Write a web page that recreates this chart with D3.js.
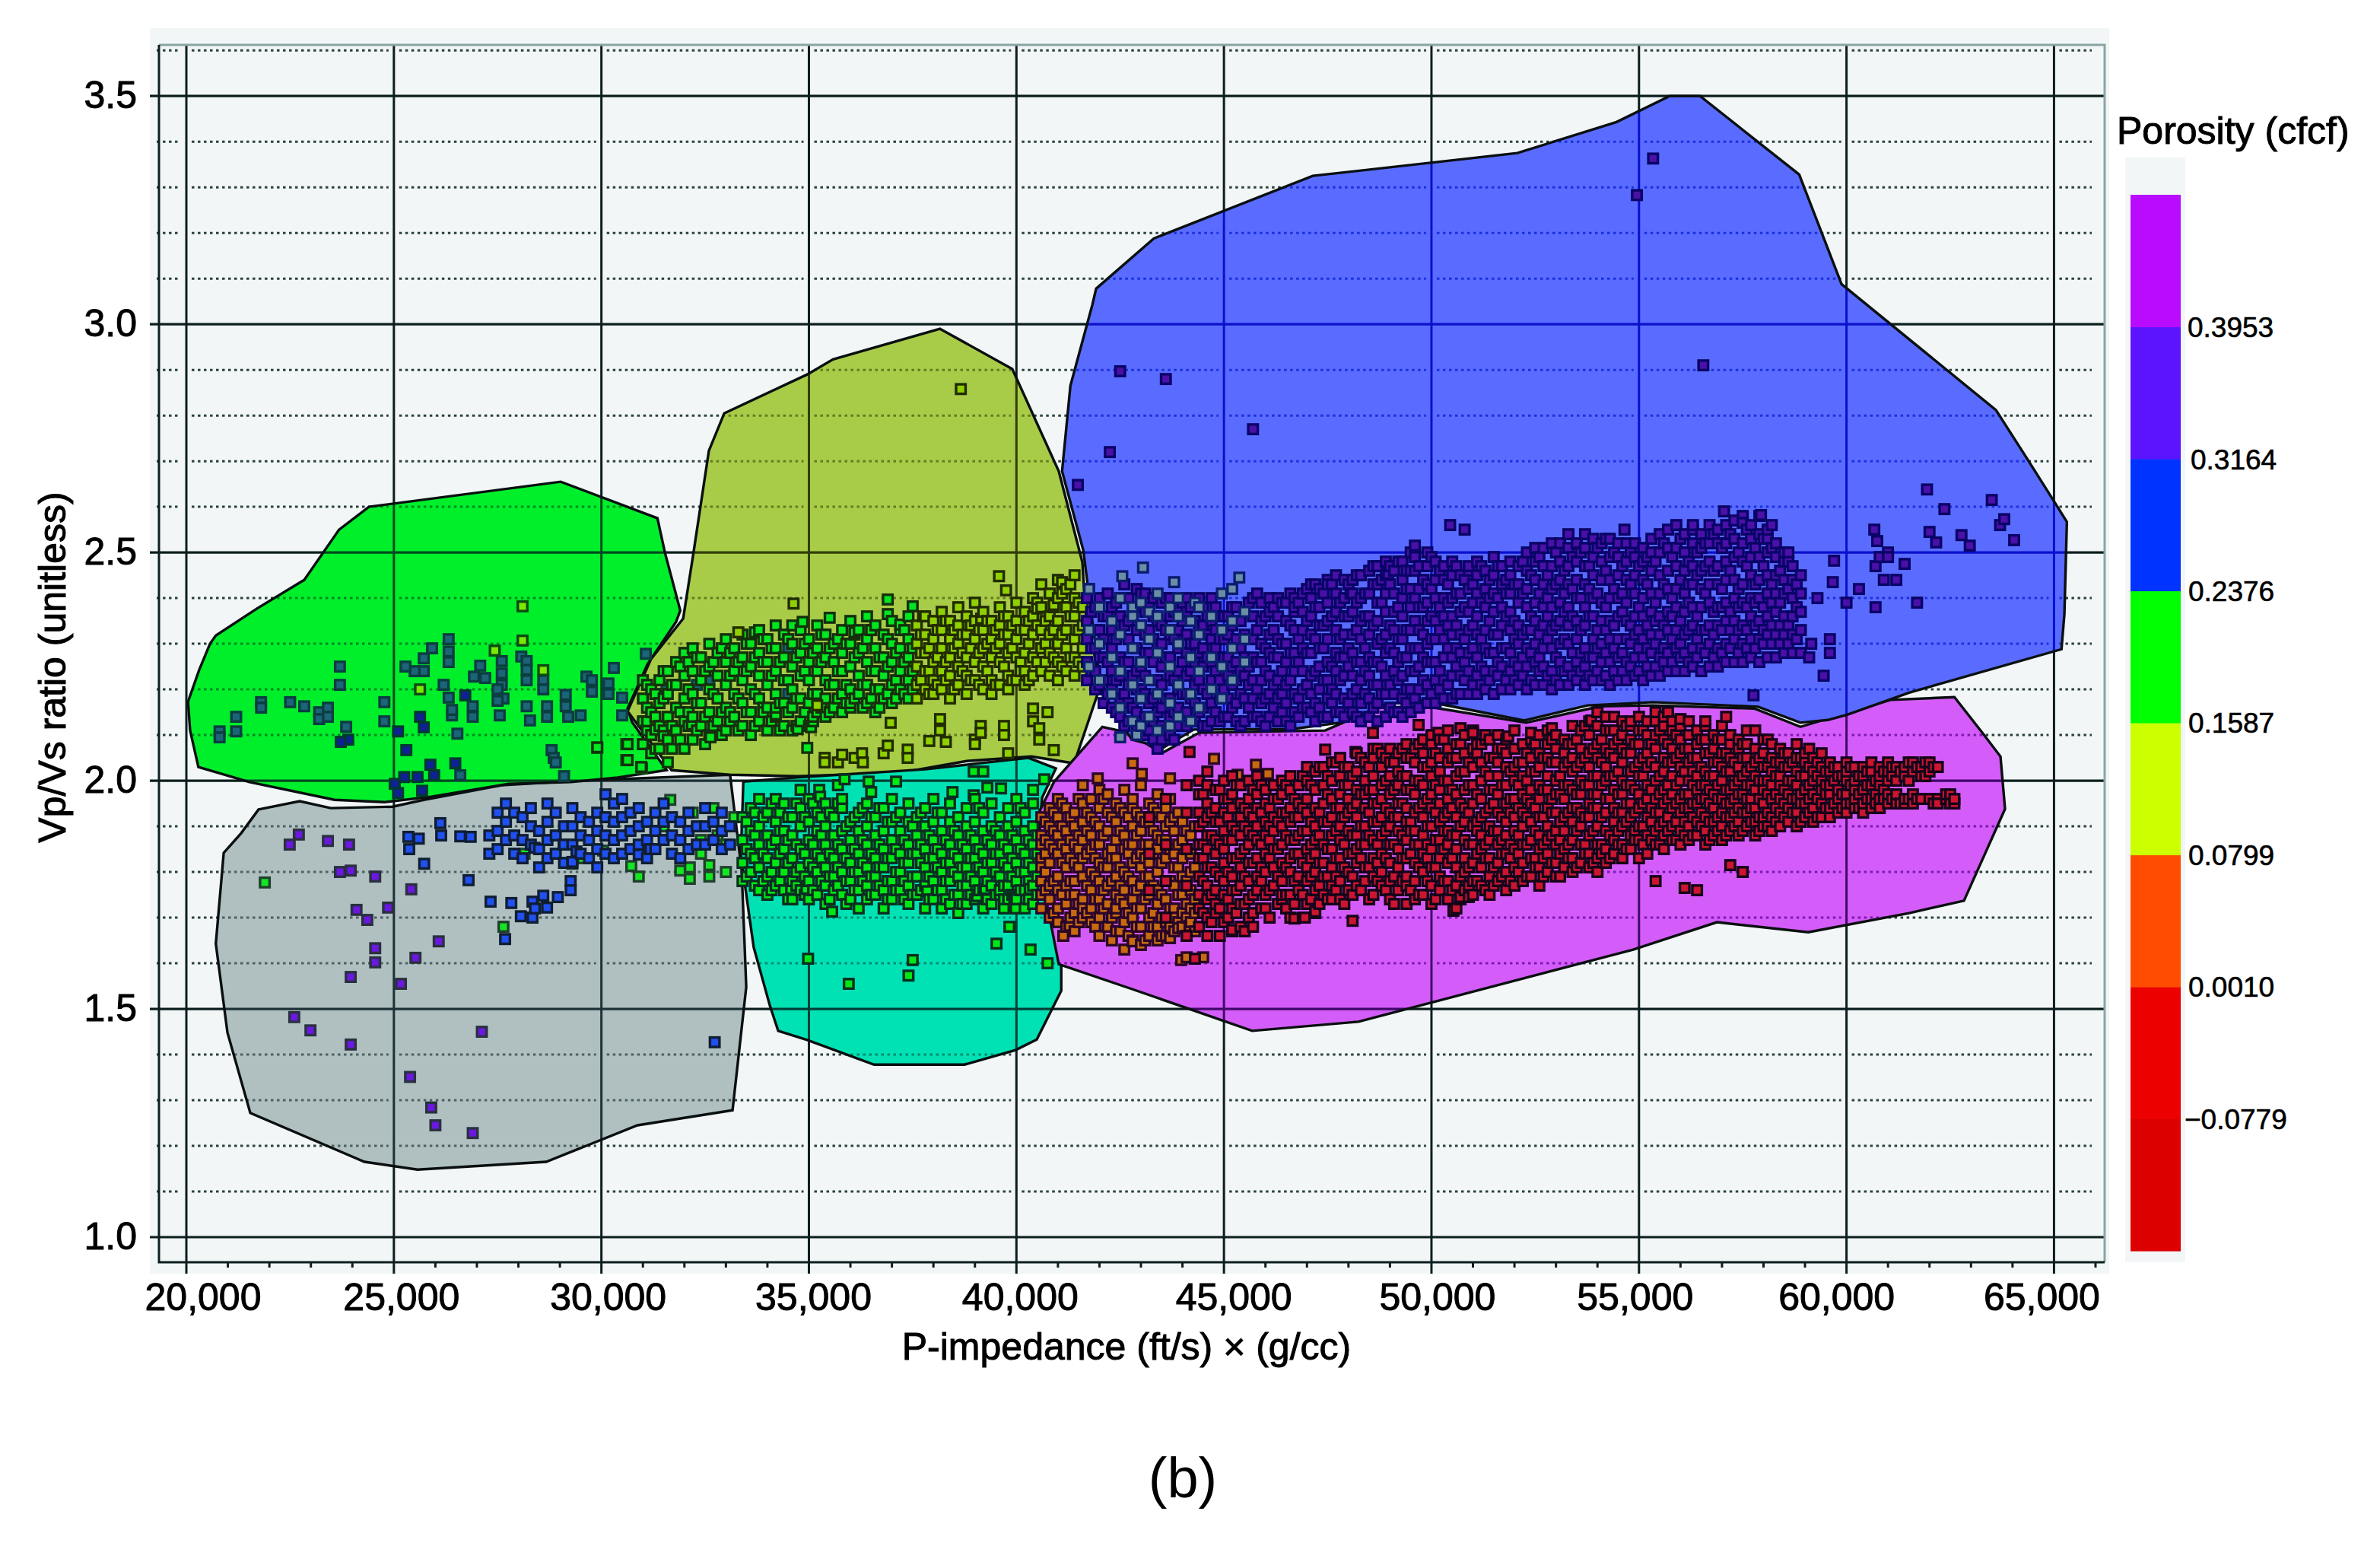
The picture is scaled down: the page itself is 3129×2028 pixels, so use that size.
<!DOCTYPE html>
<html><head><meta charset="utf-8">
<script src="https://cdn.jsdelivr.net/npm/d3@7"></script>
<style>html,body{margin:0;background:#fff}text{font-family:"Liberation Sans",Arial,sans-serif;fill:#000}</style>
</head><body><svg id="c" width="3129" height="2028"></svg>
<script>
// ---- axes ----
const xMajorTicks=[20,25,30,35,40,45,50,55,60,65];
const yMajorTicks=[1,1.5,2,2.5,3,3.5];
const yMinorTicks=[1.1,1.2,1.3,1.4,1.6,1.7,1.8,1.9,2.1,2.2,2.3,2.4,2.6,2.7,2.8,2.9,3.1,3.2,3.3,3.4,3.6];
const xTickLabelNudge=[22,10,9,6,5,13,8,-5,-13,-16];
const legendTicks=[0.3953,0.3164,0.2376,0.1587,0.0799,0.0010,-0.0779];
const legendTickNudge=[2,6,3,3,3,3,-2];
const legendColors=["#dc0000","#ec0000","#ff4c00","#ccff00","#00ff00","#0033ff","#5c14ff","#b90cff"];
// ---- polygons [x (thousand), y] ----
const greenPoly=[[20.04,2.173],[20.31,2.243],[20.57,2.30],[20.71,2.318],[21.70,2.377],[22.84,2.44],[23.68,2.55],[24.40,2.60],[29.02,2.655],[31.35,2.575],[31.53,2.50],[31.90,2.373],[31.80,2.348],[31.11,2.255],[30.63,2.158],[30.74,2.128],[31.57,2.023],[30.39,2.007],[29.27,1.997],[27.77,1.993],[25.90,1.965],[24.78,1.953],[23.57,1.958],[21.52,1.997],[20.29,2.03],[20.09,2.11]];
const olivePoly=[[38.16,2.99],[39.90,2.902],[41.02,2.678],[41.59,2.478],[41.66,2.373],[42.03,2.21],[41.39,2.038],[40.36,2.053],[38.80,2.043],[37.17,2.017],[34.72,2.01],[33.09,2.013],[31.69,2.023],[30.63,2.152],[31.20,2.267],[31.97,2.355],[32.22,2.50],[32.59,2.723],[32.96,2.805],[34.96,2.89],[35.58,2.923]];
const bluePoly=[[41.92,3.078],[43.31,3.188],[47.14,3.325],[52.07,3.375],[54.46,3.443],[55.74,3.50],[56.47,3.50],[58.86,3.328],[59.88,3.088],[63.60,2.812],[64.32,2.71],[64.98,2.615],[65.31,2.567],[65.25,2.365],[65.18,2.288],[61.51,2.193],[60.03,2.145],[59.55,2.133],[58.89,2.127],[57.87,2.162],[55.34,2.172],[53.76,2.165],[52.24,2.132],[50.48,2.163],[49.66,2.177],[48.92,2.168],[47.79,2.127],[46.63,2.113],[44.27,2.112],[43.53,2.072],[42.78,2.09],[42.05,2.193],[41.61,2.505],[41.10,2.678],[41.30,2.865],[41.83,3.043]];
const magentaPoly=[[40.91,1.998],[42.07,2.118],[42.71,2.105],[43.50,2.06],[44.40,2.105],[47.44,2.11],[48.70,2.16],[49.86,2.163],[52.28,2.127],[54.07,2.163],[55.34,2.165],[57.78,2.158],[58.89,2.118],[61.06,2.177],[62.60,2.183],[63.29,2.103],[63.71,2.053],[63.82,1.938],[62.83,1.737],[61.51,1.71],[59.08,1.668],[56.88,1.69],[54.86,1.63],[48.24,1.472],[45.68,1.452],[42.80,1.543],[41.02,1.598],[40.60,1.793],[40.55,1.932]];
const tealPoly=[[33.42,1.998],[34.70,2.007],[37.80,2.025],[40.29,2.05],[40.95,2.027],[40.62,1.963],[40.49,1.835],[41.08,1.60],[41.08,1.54],[40.49,1.433],[39.98,1.41],[38.75,1.378],[36.57,1.378],[34.96,1.432],[34.26,1.452],[34.06,1.507],[33.67,1.635],[33.36,1.835]];
const greyPoly=[[21.74,1.937],[22.73,1.955],[23.48,1.94],[24.97,1.943],[25.72,1.958],[27.59,1.99],[29.46,2.0],[33.10,2.013],[33.38,1.803],[33.49,1.548],[33.16,1.278],[30.87,1.245],[28.67,1.165],[25.57,1.148],[24.29,1.165],[21.54,1.272],[20.99,1.448],[20.71,1.643],[20.90,1.842],[21.32,1.885]];
// ---- points: dense clouds as [x,[y*100...]], sparse points as [x,y] ----
const orangeCols=[[40.6,[183,178,188,192,175,186,181,172]],[40.8,[190,186,182,177,174,194,170]],[41.0,[192,188,184,179,176,172,196,169]],[41.2,[194,189,185,181,177,173,168]],[41.4,[193,190,186,182,178,175,171,167]],[41.6,[195,191,187,183,179,174,170,199]],[41.8,[192,188,185,180,176,172,169,196]],[42.0,[194,190,186,182,178,174,170,166,198]],[42.2,[193,189,184,181,177,173,168,197]],[42.4,[195,191,187,183,179,175,171,172,167]],[42.6,[193,188,185,180,176,173,169,163,198]],[42.8,[194,190,186,182,178,174,170,165,196]],[43.0,[192,189,184,181,177,172,168,164,199]],[43.2,[195,191,186,182,179,175,170,166]],[43.4,[193,188,185,180,176,173,168,165,197]],[43.6,[194,190,187,183,178,174,169,166]],[43.8,[192,189,184,181,177,172,170,167]],[44.0,[191,187,183,179,175,171,168]],[44.2,[188,184,180,176,172,169]]];
const orangeCols2=[[40.7,[191,184,176,187,180]],[40.9,[178,193,171,185,189]],[41.1,[186,175,190,182,195]],[41.3,[170,183,192,178,187,175]],[41.5,[188,173,181,196,169,185]],[41.7,[177,193,184,171,189]],[41.9,[186,168,179,191,174,183]],[42.1,[172,196,181,188,176]],[42.3,[185,170,192,178,183,165]],[42.5,[189,174,181,167,194,177]],[42.7,[171,186,179,192,184,166]],[42.9,[176,188,168,183,193,172]],[43.1,[186,174,191,179,165,183]],[43.3,[171,189,177,194,184,168]],[43.5,[182,170,187,175,192,166]],[43.7,[178,191,172,185,168,196]],[43.9,[186,175,181,169,193]],[44.1,[173,189,178,185,170]],[44.3,[181,174,190,167]]];
const orangeDots=[[42.8,2.038],[43.02,2.015],[43.7,2.005],[41.96,2.005],[44.76,2.048],[45.77,2.035],[46.06,2.015],[45.33,2.013],[41.28,1.682],[41.13,1.66],[42.8,1.648],[43.7,1.655],[43.97,1.607],[44.1,1.613],[44.5,1.613],[44.17,1.682],[43.9,1.677],[41.6,1.72],[41.9,1.74],[44.6,1.74],[44.3,1.71]];
const redCols=[[43.2,[184,192,176]],[43.6,[196,186,178,170]],[44.1,[199,193,185,177,166]],[44.4,[168,172,175,179,183,186,190,193,197,200]],[44.6,[166,170,174,177,181,185,188,192,195,199,202]],[44.8,[171,173,176,180,184,187,191,194,198]],[45.0,[169,175,178,182,185,189,193,196,200]],[45.2,[167,172,176,179,183,187,190,194,197,201]],[45.4,[173,177,181,184,188,192,195,199]],[45.6,[170,174,178,182,186,189,193,196,200]],[45.8,[176,179,183,187,190,194,197,201]],[46.0,[172,175,180,184,188,191,195,198]],[46.2,[177,181,185,189,192,196,199]],[46.4,[174,178,182,186,190,193,197,200]],[46.6,[170,175,180,183,187,191,194,198,201]],[46.8,[176,179,184,188,192,195,199]],[47.0,[173,178,181,185,189,193,196,200,203]],[47.2,[171,176,180,184,187,190,194,198,202]],[47.4,[175,179,182,186,191,195,199,203]],[47.6,[177,181,185,188,192,196,200,204]],[47.8,[174,178,183,187,190,194,197,201,205]],[48.0,[176,180,184,189,193,196,199,203]],[48.2,[177,182,185,188,192,195,198,202,206]],[48.4,[178,181,186,190,194,197,200,204]],[48.6,[175,179,183,187,191,195,198,201,205,207]],[48.8,[177,180,184,188,192,196,199,203,206]],[49.0,[174,178,182,186,190,193,197,201,204,207]],[49.2,[176,181,185,189,192,195,199,202,206]],[49.4,[177,179,183,187,191,194,198,201,205,208]],[49.6,[174,178,182,186,189,193,197,200,204,207]],[49.8,[175,180,184,188,192,195,199,203,206,209]],[50.0,[173,177,181,185,190,194,197,201,204,208,210]],[50.2,[176,179,183,187,191,195,198,202,205,209]],[50.4,[174,178,182,186,189,193,196,200,204,207,211]],[50.6,[172,177,181,185,188,192,197,201,205,208]],[50.8,[176,180,183,187,191,194,198,202,206,210]],[51.0,[175,178,182,186,190,195,199,203,207,211]],[51.2,[177,181,185,188,192,196,200,204,208]],[51.4,[175,179,183,187,190,194,198,201,205,209]],[51.6,[178,182,186,189,193,197,201,204,207,210]],[51.8,[176,180,184,188,191,195,199,203,206,209]],[52.0,[177,181,185,189,192,196,200,203,207,211]],[52.2,[178,182,186,190,193,197,201,204,208]],[52.4,[179,183,187,191,195,198,202,205,209]],[52.6,[177,181,185,188,192,196,199,203,206,210]],[52.8,[180,184,187,190,194,198,201,205,208,211]],[53.0,[179,182,186,189,193,197,200,204,207,210]],[53.2,[181,185,189,192,196,199,203,206,209]],[53.4,[180,183,187,191,194,198,202,205,208,212]],[53.6,[182,186,190,193,197,200,204,207,211]],[53.8,[181,184,188,192,195,199,203,206,210,213]],[54.0,[180,183,186,190,194,197,201,205,208,212,215]],[54.2,[182,185,189,193,196,200,203,207,211,214]],[54.4,[184,187,191,194,198,201,205,208,211]],[54.6,[183,186,190,193,197,200,204,207,210,213]],[54.8,[185,188,192,195,199,202,206,209,212]],[55.0,[183,187,190,194,197,201,204,208,211,214]],[55.2,[184,188,192,196,199,203,206,210,213]],[55.4,[186,189,193,196,200,203,207,210,213]],[55.6,[185,188,191,195,198,202,205,209,212,214]],[55.8,[187,190,194,197,201,204,207,211,213]],[56.0,[186,189,193,196,200,203,206,209,212]],[56.2,[187,190,194,197,200,204,207,210,213]],[56.4,[188,191,195,198,201,205,208,211]],[56.6,[186,189,192,196,199,202,206,209,212]],[56.8,[188,191,194,197,201,204,207,210]],[57.0,[187,190,193,196,200,203,206,209,212]],[57.2,[189,192,195,198,202,205,208,210]],[57.4,[188,191,194,197,200,203,207,209]],[57.6,[190,193,196,199,202,205,208,211]],[57.8,[188,191,194,198,201,204,207]],[58.0,[190,192,195,198,200,203,206,209]],[58.2,[189,192,196,199,202,205,208]],[58.4,[190,193,196,199,201,204,207]],[58.6,[191,194,197,200,203,206]],[58.8,[190,193,196,199,202,205,208]],[59.0,[192,195,198,201,204,206]],[59.2,[191,194,197,200,202,205]],[59.4,[192,195,198,200,203,206]],[59.6,[192,194,197,199,202,204]],[59.8,[193,196,198,201,203]],[60.0,[193,195,197,200,202,204]],[60.2,[194,196,198,200,203]],[60.4,[193,195,198,201,203]],[60.6,[194,196,199,202,204]],[60.8,[194,196,199,201,203]],[61.0,[195,197,200,202,204]],[61.2,[195,197,200,203]],[61.4,[195,196,201,203]],[61.6,[195,197,202,204]],[61.8,[196,201,203]],[62.0,[196,202,204]],[62.2,[196,195,203]],[62.4,[196,197]],[62.6,[195,196]]];
const redCols2=[[44.5,[191,178,186,171,197,183]],[44.7,[175,193,169,188,181]],[44.9,[186,172,198,179,191,166]],[45.1,[180,192,174,187,170,196]],[45.3,[189,176,183,199,171]],[45.5,[173,194,185,179,167,190]],[45.7,[182,198,175,188,192,171]],[45.9,[193,178,186,172,199,181]],[46.1,[176,190,183,194,170,187]],[46.3,[196,173,185,179,191]],[46.5,[181,188,175,199,193,172]],[46.7,[192,178,184,196,173,187]],[46.9,[175,189,182,201,194,170]],[47.1,[186,199,179,191,174,183]],[47.3,[193,177,188,203,182,173]],[47.5,[179,197,185,174,191,201]],[47.7,[189,183,176,194,204,179]],[47.9,[192,173,199,186,181,203]],[48.1,[179,188,201,194,175,184]],[48.3,[197,183,176,190,205,186]],[48.5,[181,193,203,174,188,198]],[48.7,[186,178,195,207,182,191]],[48.9,[200,176,189,183,194,205]],[49.1,[179,192,186,198,173,204]],[49.3,[188,183,207,195,178,201]],[49.5,[176,191,198,184,205,189]],[49.7,[181,194,186,208,175,200]],[49.9,[190,178,203,196,183,186]],[50.1,[174,193,187,206,199,181]],[50.3,[185,200,178,192,209,189]],[50.5,[194,176,183,205,198,188]],[50.7,[179,190,202,174,195,208]],[50.9,[186,199,181,193,177,204]],[51.1,[191,184,206,178,197,189]],[51.3,[176,193,202,186,183,209]],[51.5,[198,181,189,205,177,195]],[51.7,[184,192,179,207,199,187]],[51.9,[193,178,186,202,196,183]],[52.1,[188,180,204,194,199,184]],[52.3,[179,192,186,206,200,196]],[52.5,[194,183,189,208,181,202]],[52.7,[186,179,198,192,205,183]],[52.9,[196,182,188,204,193,209]],[53.1,[184,201,191,179,197,187]],[53.3,[193,186,208,183,199,204]],[53.5,[181,194,189,203,197,209]],[53.7,[186,199,184,205,192,212]],[53.9,[194,182,189,207,201,197]],[54.1,[186,199,192,184,209,204]],[54.3,[188,196,183,206,201,211]],[54.5,[193,186,202,189,209,197]],[54.7,[185,195,199,191,206,212]],[54.9,[189,203,193,187,198,208]],[55.1,[195,186,201,190,211,205]],[55.3,[191,198,187,204,194,208]],[55.5,[186,201,193,197,190,211]],[55.7,[196,189,204,192,208,199]],[55.9,[191,187,199,205,195,210]],[56.1,[194,188,202,197,191,207]],[56.3,[199,192,188,205,195,202]],[56.5,[190,196,203,193,199,209]],[56.7,[195,187,201,191,206,198]],[56.9,[192,199,189,204,196,209]],[57.1,[195,188,202,198,192,206]],[57.3,[200,190,196,204,193,199]],[57.5,[193,189,201,197,205,208]],[57.7,[196,191,203,199,194]],[57.9,[192,200,196,189,205]],[58.1,[197,193,203,190,200]],[58.3,[194,201,191,197,204]],[58.5,[198,192,203,195,206]],[58.7,[193,200,196,204]],[58.9,[197,191,201,195]],[59.1,[193,199,203,196]],[59.3,[196,192,201,204]],[59.5,[199,194,197,202]],[59.7,[195,200,203]],[59.9,[197,194,201]],[60.1,[195,199,203]],[60.3,[197,201,194]],[60.5,[199,196,202]],[60.7,[197,200,195]],[60.9,[198,202,196]],[61.1,[201,196,203]],[61.3,[202,195]],[61.5,[200,204,196]],[61.7,[203,196]],[61.9,[201,204]],[62.1,[203,195]],[62.5,[195,197]]];
const redDots=[[44.17,2.063],[47.44,2.068],[48.17,2.063],[48.59,2.105],[49.69,2.122],[50.17,2.105],[50.7,2.115],[51.0,2.105],[51.3,2.10],[51.1,2.08],[51.85,2.097],[52.4,2.105],[52.9,2.115],[53.85,2.132],[54.4,2.14],[54.8,2.13],[55.4,2.15],[55.7,2.15],[56.0,2.135],[56.6,2.13],[57.1,2.14],[57.8,2.11],[58.1,2.09],[58.9,2.05],[59.1,2.07],[44.3,1.61],[45.2,1.673],[45.4,1.68],[45.7,1.68],[46.7,1.698],[46.95,1.70],[47.2,1.713],[48.1,1.693],[50.53,1.715],[50.7,1.745],[50.9,1.745],[49.4,1.73],[47.6,1.74],[46.4,1.75],[45.9,1.72],[55.4,1.78],[56.1,1.765],[56.4,1.76],[57.2,1.815],[57.5,1.80]];
const purpleCols=[[41.7,[222,226,231,235,240]],[41.9,[220,224,229,233,238]],[42.1,[217,222,227,231,236]],[42.3,[216,220,224,229,233,238]],[42.5,[214,218,223,227,232,236,240]],[42.7,[213,217,221,226,231,235,240]],[42.9,[211,215,220,224,229,233,238,242]],[43.1,[210,214,219,223,228,232,237,241]],[43.3,[209,213,218,222,226,231,236,240]],[43.5,[209,212,216,221,225,230,234,239]],[43.7,[210,214,218,223,227,232,236,240]],[43.9,[212,216,220,224,229,233,238]],[44.1,[212,215,219,223,228,232,237,240]],[44.3,[213,217,221,226,230,235,239]],[44.5,[212,216,220,225,229,234,238]],[44.7,[213,217,222,226,231,235,240]],[44.9,[213,218,222,227,231,236]],[45.1,[214,218,223,227,232,236]],[45.3,[213,217,222,226,231,235,238]],[45.5,[213,218,223,227,232,237]],[45.7,[214,218,222,227,231,236,240]],[45.9,[213,217,222,226,230,235,239]],[46.1,[214,219,223,228,232,237,240]],[46.3,[213,218,222,227,231,236,240]],[46.5,[213,217,221,226,230,235,239]],[46.7,[215,219,224,228,233,237,240]],[46.9,[216,220,224,229,233,237,241]],[47.1,[215,219,223,228,232,236,240,243]],[47.3,[216,220,225,229,234,238,242]],[47.5,[214,218,222,226,231,235,239,244]],[47.7,[215,219,224,228,233,237,241,245]],[47.9,[214,218,223,227,232,236,240,244]],[48.1,[215,219,223,228,232,237,241,244]],[48.3,[213,217,222,226,231,235,240,245]],[48.5,[214,218,223,227,232,236,241,246]],[48.7,[213,217,221,226,230,235,239,243,247]],[48.9,[214,219,223,228,232,237,241,245,248]],[49.1,[215,219,224,228,233,237,241,246]],[49.3,[214,218,223,227,231,236,240,244,248]],[49.5,[215,220,224,229,233,238,242,246,250]],[49.7,[216,220,225,229,233,238,242,247]],[49.9,[217,221,226,230,235,239,243,247,250]],[50.1,[217,222,226,231,235,240,244,248]],[50.3,[218,222,227,231,236,240,244,247]],[50.5,[218,223,227,232,236,240,245,248]],[50.7,[219,223,228,232,237,241,245]],[50.9,[219,224,228,233,237,242,246,247]],[51.1,[219,223,227,232,236,241,245,248]],[51.3,[220,224,229,233,238,242,246]],[51.5,[219,224,228,232,237,241,245,249]],[51.7,[220,225,229,234,238,243,247]],[51.9,[220,224,228,233,237,241,245,248]],[52.1,[221,225,230,234,239,243,247]],[52.3,[220,225,229,233,238,242,246,250]],[52.5,[221,226,230,235,239,244,248,251]],[52.7,[221,225,229,234,238,243,247,251]],[52.9,[220,224,229,233,238,242,247,252]],[53.1,[221,226,230,235,239,244,248,252]],[53.3,[221,225,230,234,238,243,247,251,254]],[53.5,[222,226,231,235,240,244,248,252]],[53.7,[221,225,229,234,238,243,247,251,254]],[53.9,[222,227,231,236,240,245,249,253]],[54.1,[222,226,230,235,239,244,248,252]],[54.3,[221,226,231,235,240,244,249,253]],[54.5,[222,227,231,236,240,245,249,252]],[54.7,[222,226,231,235,239,244,248,252]],[54.9,[223,227,232,236,241,245,249,252]],[55.1,[222,227,231,236,240,244,248,251]],[55.3,[223,228,232,237,241,246,250,253]],[55.5,[223,227,232,236,241,245,250,254]],[55.7,[224,228,233,237,242,246,251,255]],[55.9,[224,229,233,238,242,247,251,256]],[56.1,[224,228,232,237,241,246,250,254]],[56.3,[225,229,234,238,243,247,252,255]],[56.5,[224,229,233,238,242,246,251,254]],[56.7,[225,230,234,239,243,248,252,256]],[56.9,[225,229,234,238,243,247,252,255]],[57.1,[226,230,235,239,244,248,252,256]],[57.3,[226,231,235,240,244,249,253,257]],[57.5,[226,230,234,239,243,248,252,258]],[57.7,[227,231,236,240,245,249,253,256]],[57.9,[226,231,235,240,244,249,254,258]],[58.1,[227,232,236,241,245,250,253,255]],[58.3,[227,232,237,241,245,249,252]],[58.5,[228,232,236,241,244,248,250]],[58.7,[228,232,236,240,244,247]],[58.9,[228,233,237,241,245]]];
const purpleCols2=[[41.8,[229,237,224]],[42.0,[233,221,227,240]],[42.2,[219,236,226,241]],[42.4,[231,215,222,239]],[42.6,[226,219,234,212,243]],[42.8,[216,229,238,223]],[43.0,[225,212,234,220,241]],[43.2,[217,238,228,211,233]],[43.4,[222,207,235,215,229]],[43.6,[218,227,240,211,233]],[43.8,[231,215,222,237,209]],[44.0,[226,214,235,219,239]],[44.2,[218,230,213,224,238]],[44.4,[234,222,215,228,240]],[44.6,[219,227,212,236,232]],[44.8,[224,215,233,229,238]],[45.0,[220,236,227,214,231]],[45.2,[225,216,234,221,238]],[45.4,[229,219,212,235,224]],[45.6,[216,231,225,239,221]],[45.8,[226,214,233,220,241]],[46.0,[218,236,229,212,224]],[46.2,[233,221,216,238,227]],[46.4,[224,239,215,230,219]],[46.6,[228,212,234,222,241]],[46.8,[218,231,226,239,214]],[47.0,[235,221,216,228,242]],[47.2,[224,217,238,231,213]],[47.4,[229,222,241,214,234]],[47.6,[217,236,225,243,220]],[47.8,[231,222,215,239,227]],[48.0,[225,236,217,243,229]],[48.2,[220,233,214,239,226,245]],[48.4,[229,219,241,224,236]],[48.6,[216,234,226,221,243,247]],[48.8,[225,239,219,231,244]],[49.0,[221,234,216,229,243,247]],[49.2,[226,238,222,215,231,248]],[49.4,[220,233,242,227,217,246]],[49.6,[235,224,218,240,229,249]],[49.8,[222,232,244,227,238]],[50.0,[219,236,226,242,231,249]],[50.2,[224,238,220,233,246]],[50.4,[229,221,243,234,239]],[50.6,[225,234,219,241,229,247]],[50.8,[222,238,231,226,244]],[51.0,[234,221,229,243,239]],[51.2,[225,239,221,231,247]],[51.4,[228,222,235,244,240]],[51.6,[223,232,240,226,247]],[51.8,[236,222,229,244,241]],[52.0,[226,235,222,243,231]],[52.2,[223,232,241,227,248]],[52.4,[228,236,222,245,233]],[52.6,[224,241,232,227,249]],[52.8,[236,223,231,245,240]],[53.0,[227,234,222,243,250]],[53.2,[224,237,231,246,241]],[53.4,[228,223,236,249,242]],[53.6,[233,224,240,228,250]],[53.8,[227,236,223,247,242]],[54.0,[224,233,241,229,251]],[54.2,[228,238,223,246,233]],[54.4,[224,234,242,229,250]],[54.6,[237,228,224,247,241]],[54.8,[225,234,243,230,250]],[55.0,[229,238,224,247,233]],[55.2,[225,234,243,229,249]],[55.4,[230,239,225,248,235]],[55.6,[226,234,243,229,252]],[55.8,[231,240,226,249,236]],[56.0,[227,235,244,230,253]],[56.2,[226,239,233,248,243]],[56.4,[231,227,236,250,245]],[56.6,[228,241,233,247,252]],[56.8,[232,227,237,246,254]],[57.0,[228,242,233,251,238]],[57.2,[229,237,246,233,254]],[57.4,[233,228,242,250,238]],[57.6,[229,238,247,233,255]],[57.8,[234,229,243,251,239]],[58.0,[230,238,247,233,253]],[58.2,[234,230,243,251,239]],[58.4,[230,239,246,234]],[58.6,[234,230,242,248]],[58.8,[231,238,243]]];
const purpleDots=[[61.94,2.638],[63.5,2.615],[62.36,2.595],[63.8,2.573],[63.7,2.56],[62.0,2.545],[62.16,2.522],[62.77,2.538],[62.97,2.515],[64.04,2.527],[60.67,2.55],[60.74,2.525],[61.0,2.50],[60.8,2.49],[61.0,2.49],[60.7,2.47],[61.4,2.475],[59.7,2.482],[60.9,2.44],[61.2,2.44],[60.3,2.42],[59.67,2.435],[59.3,2.40],[60.0,2.39],[60.7,2.38],[61.7,2.39],[59.6,2.31],[59.6,2.28],[59.45,2.23],[59.15,2.30],[59.1,2.27],[58.2,2.56],[58.6,2.50],[57.94,2.582],[57.05,2.59],[57.5,2.565],[56.3,2.56],[54.65,2.55],[54.2,2.53],[57.76,2.187],[55.34,3.363],[54.95,3.283],[56.55,2.91],[42.5,2.897],[43.6,2.88],[42.25,2.72],[45.7,2.77],[41.48,2.648],[50.45,2.56],[50.8,2.55],[49.6,2.515],[49.6,2.49],[49.6,2.46],[48.96,2.453],[47.2,2.43],[47.5,2.43],[48.05,2.41],[46.7,2.38]];
const slateCols=[[41.75,[233,225,242]],[42.0,[230,222,238]],[42.3,[235,227,219]],[42.5,[232,224,216,240]],[42.8,[238,229,221,213,236]],[43.0,[234,226,218,212,239]],[43.2,[231,222,214,237]],[43.4,[236,228,219,211,241]],[43.7,[233,225,217,212,238]],[43.9,[230,221,214,236,240]],[44.2,[235,227,219,213]],[44.4,[232,224,216,238]],[44.7,[236,227,220]],[44.95,[233,225,218]],[45.2,[235,229,222]],[45.5,[237,231,226]]];
const slateDots=[[43.05,2.467],[42.55,2.448],[43.8,2.435],[45.37,2.445],[45.2,2.42],[44.95,2.41],[44.3,2.39],[41.75,2.42],[43.0,2.39],[41.75,2.33],[42.5,2.095],[42.9,2.10]];
const greenOliveCols=[[31.0,[218,213,208,222]],[31.2,[220,215,210,206]],[31.4,[222,217,212,207]],[31.6,[224,219,214,209,204]],[31.8,[226,221,216,211]],[32.0,[228,223,218,213,207]],[32.2,[229,224,219,214,209]],[32.4,[227,222,217,212]],[32.6,[230,225,220,215,210]],[32.8,[228,223,218,213]],[33.0,[231,226,221,216,211]],[33.2,[229,224,219,214]],[33.4,[232,227,222,217,212]],[33.6,[230,225,220,215,210]],[33.8,[233,228,223,218,213]],[34.0,[231,226,221,216,211]],[34.2,[234,229,224,219,214]],[34.4,[232,227,222,217,212]],[34.6,[230,225,220,216,211]],[34.8,[233,228,223,218,213]],[35.0,[231,226,222,217,212]],[35.2,[234,229,224,219,215]],[35.4,[232,227,222,218,214]],[35.6,[230,226,221,216]],[35.8,[233,228,224,219,215]],[36.0,[235,230,225,220,216]],[36.2,[233,228,223,219]],[36.4,[236,231,226,221,217]],[36.6,[234,229,224,220,215]],[36.8,[232,227,223,218]],[37.0,[235,230,226,221,217]],[37.2,[233,229,224,220]],[37.4,[236,231,227,222,218]]];
const greenOliveCols2=[[31.1,[216,221,211]],[31.3,[214,219,207]],[31.5,[218,211,224]],[31.7,[221,212,207]],[31.9,[215,225,209]],[32.1,[220,212,226]],[32.3,[217,227,211]],[32.5,[224,214,208]],[32.7,[219,226,212]],[32.9,[215,229,210]],[33.1,[223,213,228]],[33.3,[218,226,211]],[33.5,[224,215,230]],[33.7,[219,227,212]],[33.9,[226,216,231]],[34.1,[213,223,229]],[34.3,[217,226,211]],[34.5,[222,215,231]],[34.7,[227,218,212]],[34.9,[224,215,230]],[35.1,[219,228,213]],[35.3,[226,216,232]],[35.5,[221,229,215]],[35.7,[224,218,231]],[35.9,[221,217,230]],[36.1,[227,218,232]],[36.3,[221,229,216]],[36.5,[224,218,233]],[36.7,[227,220,216]],[36.9,[225,219,231]],[37.1,[228,222,218]],[37.3,[226,219,233]],[37.5,[229,224,220]]];
const limeCols=[[37.6,[234,230,225,221,218]],[37.8,[236,232,228,224,220]],[38.0,[235,231,226,222,219]],[38.2,[237,233,229,224,220]],[38.4,[235,231,227,223,218]],[38.6,[238,234,230,225,221]],[38.8,[236,232,227,223,219]],[39.0,[239,235,231,226,222]],[39.2,[237,233,229,225,220]],[39.4,[235,231,227,222,219]],[39.6,[238,234,230,226,221]],[39.8,[236,232,228,223,220]],[40.0,[239,235,231,227,222]],[40.2,[237,233,228,224,221]],[40.4,[240,236,232,227,223]],[40.6,[243,238,233,229,224]],[40.8,[241,236,232,228,223]],[41.0,[244,240,235,230,226,222]],[41.2,[242,238,233,229,224]],[41.4,[245,240,236,231,227,223]],[41.6,[238,234,229,225]]];
const limeCols2=[[37.7,[228,222,232]],[37.9,[229,224,219]],[38.1,[233,221,227]],[38.3,[226,235,222]],[38.5,[229,220,233]],[38.7,[224,232,228]],[38.9,[234,222,229]],[39.1,[228,221,233]],[39.3,[224,235,230]],[39.5,[229,221,233]],[39.7,[225,236,232]],[39.9,[222,229,234]],[40.1,[226,233,224]],[40.3,[230,222,235]],[40.5,[226,234,239]],[40.7,[230,235,226]],[40.9,[238,227,233]],[41.1,[232,241,225]],[41.3,[227,236,243]],[41.5,[233,226,239]]];
const greenOliveDots=[[34.85,2.348],[34.6,2.34],[35.5,2.357],[36.9,2.397],[36.9,2.365],[37.5,2.382],[37.2,2.342],[38.3,2.342],[33.7,2.325],[36.5,2.33],[36.1,2.325],[32.63,2.095],[31.5,2.098],[31.3,2.112],[31.1,2.13],[34.96,2.072],[34.73,2.113],[35.05,2.117],[32.18,2.123],[33.9,2.15],[34.2,2.145],[33.1,2.15],[32.1,2.15],[30.63,2.08],[30.63,2.045],[30.96,2.03],[29.9,2.073],[34.2,2.16],[35.1,2.14],[36.0,2.17]];
const limeDots=[[34.63,2.388],[37.75,2.36],[39.15,2.355],[33.3,2.325],[39.58,2.448],[39.75,2.417],[41.1,2.435],[40.5,2.377],[40.9,2.385],[41.2,2.38],[38.66,2.858],[36.97,2.127],[38.16,2.135],[38.16,2.11],[38.3,2.085],[37.9,2.087],[39.14,2.12],[39.14,2.105],[39.7,2.12],[39.7,2.10],[39.0,2.09],[39.0,2.08],[40.4,2.158],[40.75,2.15],[40.4,2.13],[40.55,2.115],[40.55,2.09],[40.9,2.067],[39.8,2.06],[37.38,2.068],[37.38,2.05],[36.9,2.077],[36.8,2.06],[36.28,2.06],[36.1,2.05],[35.8,2.057],[35.38,2.05],[35.38,2.04],[35.7,2.04],[36.3,2.04],[35.2,2.165],[41.85,2.24]];
const greenTealCols=[[33.4,[192,187,182,178]],[33.6,[194,189,184,180]],[33.8,[190,186,181,176,196]],[34.0,[193,188,183,179,175]],[34.2,[191,187,182,177,196]],[34.4,[195,189,185,180,176]],[34.6,[192,188,183,178,174]],[34.8,[194,190,185,181,176,198]],[35.0,[191,187,182,178,174,196]],[35.2,[193,189,184,180,175]],[35.4,[195,190,186,181,177,173]],[35.6,[192,188,183,179,176]],[35.8,[194,189,185,180,175,196]],[36.0,[191,187,182,178,174]],[36.2,[193,189,184,180,176,172]],[36.4,[195,190,186,181,177,174]],[36.6,[192,188,183,179,175]],[36.8,[194,189,185,181,176,172]],[37.0,[191,187,183,178,174,196]],[37.2,[193,189,184,180,176]],[37.4,[195,191,186,182,177,173]],[37.6,[192,188,184,179,175]],[37.8,[194,190,185,181,177,172]],[38.0,[191,187,183,178,174,196]],[38.2,[193,189,184,180,176,172]],[38.4,[195,191,186,182,178,173]],[38.6,[192,188,183,179,175,171]],[38.8,[194,190,185,181,177,173]],[39.0,[191,187,183,178,174,196]],[39.2,[193,189,184,180,176,172]],[39.4,[195,190,186,182,177,173]],[39.6,[192,188,184,179,175]],[39.8,[194,190,185,181,177,174]],[40.0,[191,187,182,178,174,196]],[40.2,[193,189,184,180,176,172]],[40.4,[195,190,186,181,177,173]]];
const greenTealCols2=[[33.5,[185,179,191]],[33.7,[177,188,193,183]],[33.9,[184,192,178]],[34.1,[186,180,195,176]],[34.3,[189,184,178,193]],[34.5,[182,187,174,192]],[34.7,[180,186,177,195]],[34.9,[184,192,179,175]],[35.1,[186,181,176,195]],[35.3,[188,178,183,192]],[35.5,[184,179,174,193]],[35.7,[186,181,177,195]],[35.9,[183,178,190,173]],[36.1,[185,176,192,180]],[36.3,[187,182,178,194]],[36.5,[184,179,175,192]],[36.7,[186,181,177,194]],[36.9,[183,178,174,191]],[37.1,[185,180,176,192]],[37.3,[187,182,178,174]],[37.5,[190,184,179,175]],[37.7,[186,182,176,193]],[37.9,[188,183,179,174]],[38.1,[185,181,176,193]],[38.3,[187,182,178,174]],[38.5,[189,184,180,175]],[38.7,[186,181,177,173]],[38.9,[188,183,179,175]],[39.1,[185,181,176,194]],[39.3,[187,182,178,174]],[39.5,[189,184,180,175]],[39.7,[186,182,177,172]],[39.9,[188,183,179,175]],[40.1,[185,180,176,194]],[40.3,[187,182,178,174]],[40.5,[188,184,179,175]]];
const greenTealDots=[[38.97,2.02],[39.2,2.02],[40.67,2.003],[37.1,1.998],[35.86,2.003],[35.7,1.99],[36.44,1.998],[36.5,1.975],[35.25,1.98],[35.27,1.965],[38.46,1.975],[39.63,1.983],[40.4,1.98],[38.97,1.968],[39.3,1.985],[34.94,1.763],[34.57,1.763],[37.85,1.758],[39.05,1.747],[39.25,1.763],[39.6,1.76],[39.7,1.74],[39.95,1.745],[39.98,1.72],[40.32,1.763],[35.56,1.713],[39.83,1.68],[39.52,1.643],[40.34,1.63],[40.75,1.60],[34.98,1.61],[37.5,1.607],[37.4,1.573],[35.96,1.555]];
const blueCols=[[27.3,[188,184]],[27.5,[193,189,185]],[27.7,[195,191,187]],[27.9,[193,188,184]],[28.1,[192,187,183]],[28.3,[194,190,186]],[28.5,[189,185,181]],[28.7,[195,191,187,183]],[28.9,[193,188,184]],[29.1,[190,186,182]],[29.3,[194,190,186,182]],[29.5,[192,188,184]],[29.7,[191,187,183]],[29.9,[193,189,185,181]],[30.1,[197,192,188,184]],[30.3,[195,191,187,183]],[30.5,[196,192,188,184]],[30.7,[193,189,185]],[30.9,[194,190,186]],[31.1,[191,187,183]],[31.3,[193,189,185]],[31.5,[195,191,187]],[31.7,[192,188,184]],[31.9,[191,187,183]],[32.1,[193,189,185]],[32.3,[190,186]],[32.5,[194,190,186]],[32.7,[191,187]],[32.9,[193,189,185]],[33.1,[190,186]]];
const blueDots=[[26.12,1.907],[25.35,1.877],[25.6,1.873],[26.14,1.88],[26.6,1.878],[26.85,1.877],[25.37,1.85],[25.73,1.818],[26.8,1.782],[27.33,1.735],[27.83,1.732],[28.06,1.703],[28.34,1.70],[28.4,1.72],[28.34,1.735],[28.6,1.748],[28.69,1.722],[28.95,1.745],[29.26,1.78],[29.26,1.76],[27.68,1.653],[32.73,1.427],[30.9,1.838],[29.3,1.822],[29.4,1.845],[28.39,1.853],[29.09,1.86],[31.18,1.85]];
const violetDots=[[22.71,1.882],[22.49,1.86],[23.41,1.868],[23.92,1.86],[23.7,1.80],[23.96,1.803],[24.55,1.79],[25.42,1.762],[24.1,1.717],[24.86,1.722],[24.36,1.695],[24.55,1.633],[24.55,1.602],[26.08,1.648],[25.52,1.612],[23.96,1.57],[25.17,1.555],[22.6,1.482],[22.99,1.453],[23.96,1.422],[27.12,1.45],[25.39,1.351],[25.9,1.284],[26.0,1.245],[26.9,1.228]];
const greenGreyDots=[[21.89,1.777],[27.64,1.68],[28.15,1.84],[30.04,1.847],[29.3,1.818],[29.55,1.83],[30.72,1.813],[30.9,1.79],[31.9,1.803],[32.13,1.81],[32.13,1.785],[32.6,1.815],[32.6,1.79],[33.0,1.80],[31.66,1.958],[31.5,1.90],[31.9,1.87],[32.2,1.93],[32.4,1.87],[32.7,1.94],[32.8,1.88],[33.0,1.86],[33.2,1.92],[31.2,1.85],[32.4,1.84]];
const darkTealDots=[[26.32,2.31],[26.32,2.283],[26.32,2.26],[25.92,2.29],[25.72,2.268],[25.72,2.24],[25.5,2.24],[25.28,2.25],[23.7,2.25],[23.7,2.21],[21.8,2.172],[21.8,2.16],[22.5,2.172],[22.84,2.163],[23.2,2.15],[23.2,2.135],[23.41,2.16],[23.41,2.14],[24.77,2.172],[24.77,2.13],[21.2,2.14],[21.2,2.108],[20.8,2.108],[20.8,2.095],[23.85,2.118],[26.53,2.103],[27.08,2.252],[26.93,2.228],[27.2,2.225],[27.6,2.262],[28.07,2.272],[28.2,2.262],[28.2,2.243],[28.2,2.22],[27.6,2.235],[27.6,2.21],[27.5,2.2],[27.64,2.18],[27.5,2.175],[27.55,2.143],[26.9,2.163],[26.9,2.14],[26.4,2.143],[26.4,2.155],[26.32,2.182],[26.2,2.21],[28.2,2.163],[28.28,2.132],[28.6,2.22],[28.6,2.2],[28.69,2.163],[28.69,2.14],[29.14,2.188],[29.14,2.163],[29.2,2.14],[29.5,2.143],[29.64,2.228],[29.77,2.22],[29.77,2.195],[30.17,2.213],[30.17,2.19],[30.3,2.247],[30.5,2.182],[30.5,2.143],[31.07,2.278],[28.8,2.067],[28.85,2.05],[28.9,2.04],[29.1,2.01],[26.6,2.012],[31.57,2.203],[32.3,2.21],[34.5,2.29],[34.5,2.19],[32.6,2.22]];
const navyDots=[[26.72,2.187],[25.63,2.14],[25.72,2.117],[25.1,2.108],[25.3,2.067],[25.88,2.035],[26.48,2.038],[25.97,2.012],[25.57,2.008],[25.25,2.008],[25.02,1.993],[25.1,1.973],[25.68,1.978],[23.9,2.09],[23.72,2.085]];
const limeGreenDots=[[28.1,2.307],[27.43,2.285],[25.63,2.2],[28.6,2.242],[28.1,2.382],[29.9,2.072],[30.6,2.08],[30.6,2.045],[30.98,2.027]];

const cols=a=>a.flatMap(([x,ys])=>ys.map(y=>[x,y/100]));
const mix=(...a)=>a.flat().sort((p,q)=>d3.ascending(p[0],q[0]));
const W=3129,H=2028,svg=d3.select("#c");
const x=d3.scaleLinear().domain([19.34,66.22]).range([209,2767]);
const y=d3.scaleLinear().domain([0.945,3.612]).range([1659,59]);
const FL=209,FR=2767,FT=59,FB=1659;
const fmt=d3.format(",");
svg.append("rect").attr("x",197).attr("y",37).attr("width",2576).attr("height",1637).attr("fill","#f2f6f7");

function grid(g,major,minor){
  const edges=[206,...xMajorTicks.map(x),FR-10];
  d3.pairs(edges).forEach(([a,b],i)=>{
    g.selectAll(null).data(yMinorTicks).enter().append("line")
      .attr("x1",i?a+7:a).attr("x2",b-7).attr("y1",y).attr("y2",y)
      .attr("stroke",minor).attr("stroke-width",3).attr("stroke-dasharray","3.5 4.5");
  });
  g.selectAll(null).data(yMajorTicks).enter().append("line")
    .attr("x1",197).attr("x2",FR).attr("y1",y).attr("y2",y).attr("stroke",major).attr("stroke-width",3.2);
  g.selectAll(null).data(xMajorTicks).enter().append("line")
    .attr("x1",x).attr("x2",x).attr("y1",FT).attr("y2",1674).attr("stroke",major).attr("stroke-width",3);
}
grid(svg.append("g"),"#0c1e1e","#2c4040");

svg.append("path").attr("d",`M${FL},${FT}H${FR}V${FB}`).attr("fill","none").attr("stroke","#8aa4a4").attr("stroke-width",3);
svg.append("path").attr("d",`M${FL},${FT}V${FB}H${FR}`).attr("fill","none").attr("stroke","#0c1e1e").attr("stroke-width",3);
const xMinor=d3.range(20,67).filter(d=>d%5);
svg.selectAll(null).data(xMinor).enter().append("line").attr("x1",x).attr("x2",x).attr("y1",FB).attr("y2",1666).attr("stroke","#0c1e1e").attr("stroke-width",3);

const line=d3.line().x(d=>x(d[0])).y(d=>y(d[1])).curve(d3.curveLinearClosed);
const polys=[
 {p:greyPoly,f:"#b0c0c1",maj:"#1c3236",min:"#4c6062"},
 {p:greenPoly,f:"#00ef2b",maj:"#004a1e",min:"#008a20"},
 {p:olivePoly,f:"#a8cc48",maj:"#303e08",min:"#647a20"},
 {p:tealPoly,f:"#00e2b4",maj:"#003f36",min:"#008a70"},
 {p:magentaPoly,f:"#d45df9",maj:"#40086a",min:"#7c18b0"},
 {p:bluePoly,f:"#5a6cff",maj:"#0a10cc",min:"#1a30dc"}];
const defs=svg.append("defs");
polys.forEach((o,i)=>{
  defs.append("clipPath").attr("id","cp"+i).append("path").attr("d",line(o.p));
  svg.append("path").attr("d",line(o.p)).attr("fill",o.f);
  grid(svg.append("g").attr("clip-path",`url(#cp${i})`),o.maj,o.min);
  svg.append("path").attr("d",line(o.p)).attr("fill","none").attr("stroke","#0a0f10").attr("stroke-width",3.4);
});

const S=12.5;
function pts(data,fill,stroke){
  svg.append("g").selectAll("rect").data(data).enter().append("rect")
    .attr("x",d=>x(d[0])-S/2).attr("y",d=>y(d[1])-S/2).attr("width",S).attr("height",S)
    .attr("fill",fill).attr("stroke",stroke).attr("stroke-width",3.4);
}
pts(darkTealDots,"#1c6478","#0b3e40");
pts(navyDots,"#10209a","#003a30");
pts(limeGreenDots,"#7ae800","#0c4a14");
pts(greenGreyDots,"#14e622","#20402c");
pts(violetDots,"#6a18e0","#2a3040");
pts(mix(cols(blueCols),blueDots),"#2050f0","#101e34");
pts(mix(cols(greenOliveCols),cols(greenOliveCols2),greenOliveDots),"#00e620","#14300c");
pts(mix(cols(limeCols),cols(limeCols2),limeDots),"#8fd000","#222c00");
pts(mix(cols(greenTealCols),cols(greenTealCols2),greenTealDots),"#00e814","#0a2e20");
pts(mix(cols(purpleCols),cols(purpleCols2),purpleDots),"#4a10a8","#0a0468");
pts(mix(cols(slateCols),slateDots),"#6a8ea4","#0c1c70");
pts(mix(cols(orangeCols),cols(orangeCols2),orangeDots),"#c86a10","#2c0628");
pts(mix(cols(redCols),cols(redCols2),redDots),"#cc1530","#16041a");

const lab=(sel)=>sel.attr("font-size",50).attr("stroke","#000").attr("stroke-width",1);
svg.selectAll(null).data(xMajorTicks).enter().append("text").attr("x",(d,i)=>x(d)+xTickLabelNudge[i]).attr("y",1722).attr("text-anchor","middle").text(d=>fmt(d*1000)).call(lab);
svg.selectAll(null).data(yMajorTicks).enter().append("text").attr("x",180).attr("y",d=>y(d)+16).attr("text-anchor","end").text(d3.format(".1f")).call(lab);
svg.append("text").attr("x",1481).attr("y",1787).attr("text-anchor","middle").text("P-impedance (ft/s) × (g/cc)").call(lab);
svg.append("text").attr("transform","translate(86,877) rotate(-90)").attr("text-anchor","middle").text("Vp/Vs ratio (unitless)").call(lab);
svg.append("text").attr("x",1555).attr("y",1968).attr("text-anchor","middle").attr("font-size",74).text("(b)");

const lg=d3.scaleLinear().domain([0.3953,-0.0779]).range([430,1470.6]);
const step=lg(0.3164)-lg(0.3953);
svg.append("rect").attr("x",2794).attr("y",207).attr("width",79).attr("height",1452).attr("fill","#f2f6f7");
svg.selectAll(null).data(legendColors).enter().append("rect").attr("x",2801).attr("width",66)
  .attr("y",(d,i)=>lg(-0.0779)+step-(i+1)*step).attr("height",step+0.5).attr("fill",d=>d);
svg.selectAll(null).data(legendTicks).enter().append("text").attr("x",(d,i)=>2874+legendTickNudge[i]).attr("y",d=>lg(d)+13)
  .attr("font-size",37).attr("stroke","#000").attr("stroke-width",0.6).text(d=>d3.format(".4f")(d).replace("-","−"));
svg.append("text").attr("x",2783).attr("y",189).attr("font-size",50).attr("stroke","#000").attr("stroke-width",1).text("Porosity (cfcf)");
</script></body></html>
